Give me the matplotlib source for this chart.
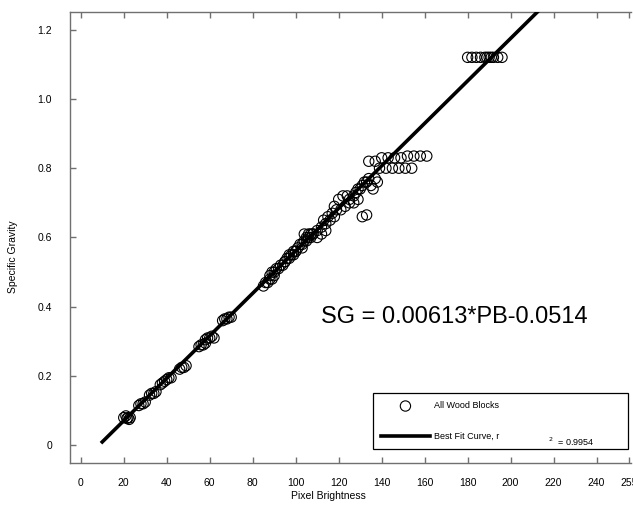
import numpy as np
import matplotlib.pyplot as plt

plt.rcParams['font.family'] = ['Liberation Sans', 'DejaVu Sans']

# wood block measurements (pixel brightness vs specific gravity)
pb = [20, 21, 21.5, 22, 22.5, 23,
      27, 28, 29, 30,
      32, 33, 34, 35,
      37, 38, 39, 40, 41, 42,
      46, 47, 48, 49,
      55, 56, 57, 58,
      58, 59, 60, 61, 62,
      66, 67, 68, 69, 70,
      85, 86, 87, 88, 89, 90,
      88, 89, 90, 91, 92, 93, 94, 95,
      95, 96, 97, 98, 99, 100, 97, 99,
      100, 101, 102, 103, 104, 105, 106, 107, 108, 103, 105, 107,
      104, 106, 108, 110, 112, 114, 116, 118, 110, 112, 114,
      113, 115, 117, 119, 121, 123, 125, 127, 129, 118, 120, 122, 124, 131, 133,
      125, 127, 128, 129, 130, 131, 132, 133, 134, 135, 136, 137, 138,
      134, 137, 140, 143, 146, 149, 152, 155, 158, 161, 139, 142, 145, 148, 151, 154,
      180, 182, 184, 186, 188, 190, 192, 194, 196, 189, 191]
sg = [0.08, 0.085, 0.078, 0.08, 0.075, 0.08,
      0.115, 0.12, 0.12, 0.125,
      0.145, 0.15, 0.15, 0.155,
      0.175, 0.18, 0.185, 0.19, 0.195, 0.195,
      0.22, 0.225, 0.225, 0.23,
      0.285, 0.29, 0.29, 0.295,
      0.305, 0.31, 0.31, 0.315, 0.31,
      0.36, 0.365, 0.365, 0.37, 0.37,
      0.46, 0.47, 0.47, 0.48, 0.48, 0.49,
      0.49, 0.50, 0.50, 0.51, 0.51, 0.52, 0.52, 0.53,
      0.53, 0.54, 0.55, 0.55, 0.56, 0.56, 0.54, 0.55,
      0.56, 0.57, 0.58, 0.58, 0.59, 0.60, 0.60, 0.61, 0.61, 0.57, 0.59, 0.60,
      0.61, 0.61, 0.61, 0.62, 0.63, 0.64, 0.65, 0.66, 0.60, 0.61, 0.62,
      0.65, 0.66, 0.67, 0.68, 0.68, 0.69, 0.70, 0.70, 0.71, 0.69, 0.71, 0.72, 0.72, 0.66, 0.665,
      0.71, 0.72, 0.73, 0.74, 0.74, 0.75, 0.76, 0.76, 0.77, 0.75, 0.74, 0.77, 0.76,
      0.82, 0.82, 0.83, 0.83, 0.83, 0.83, 0.835, 0.835, 0.835, 0.835, 0.80, 0.80, 0.80, 0.80, 0.80, 0.80,
      1.12, 1.12, 1.12, 1.12, 1.12, 1.12, 1.12, 1.12, 1.12, 1.12, 1.12]

slope = 0.00613
intercept = -0.0514
fit_x = np.array([10, 230])
fit_y = slope * fit_x + intercept

xticks = [0, 20, 40, 60, 80, 100, 120, 140, 160, 180, 200, 220, 240, 255]
yticks = [0, 0.2, 0.4, 0.6, 0.8, 1.0, 1.2]
ytick_labels = ['0', '0.2', '0.4', '0.6', '0.8', '1.0', '1.2']

fig = plt.figure(figsize=(6.33, 5.08), dpi=100)
ax = fig.add_axes([0.1106, 0.0892, 0.8862, 0.8866])

ax.scatter(pb, sg, s=55, facecolors='none', edgecolors='black', linewidths=0.8,
           label='All Wood Blocks', zorder=3)
ax.plot(fit_x, fit_y, color='black', lw=2.6, label='Best Fit Curve, r', zorder=4)

ax.set_xlim(-5, 256)
ax.set_ylim(-0.05, 1.25)
ax.set_xticks(xticks)
ax.set_yticks(yticks)
ax.set_yticklabels(ytick_labels)

gray = '#707070'
for side in ['left', 'top', 'bottom']:
    ax.spines[side].set_color(gray)
    ax.spines[side].set_linewidth(1.0)
ax.spines['right'].set_visible(False)
ax.tick_params(axis='x', direction='in', top=True, length=4, width=1, color=gray,
               labelsize=7.5, pad=11)
ax.tick_params(axis='y', direction='in', length=4, width=1, color=gray,
               labelsize=7.5, pad=13)

ax.set_xlabel('Pixel Brightness', fontsize=7.5)
ax.xaxis.set_label_coords(0.46, -0.062)
ax.set_ylabel('Specific Gravity', fontsize=7.5)
ax.yaxis.set_label_coords(-0.093, 0.457)

ax.text(112, 0.371, 'SG = 0.00613*PB-0.0514', fontsize=17, ha='left', va='center')

leg = ax.legend(loc='lower left', bbox_to_anchor=(0.540, 0.030, 0.455, 0.117),
                mode='expand', fontsize=6.5, frameon=True, fancybox=False,
                edgecolor='black', framealpha=1, borderpad=0.9, labelspacing=2.4,
                handlelength=5.4, handletextpad=0.5, scatterpoints=1,
                borderaxespad=0)
leg.get_frame().set_linewidth(0.9)
leg.set_zorder(5)
ax.text(0.852, 0.046, '$^{2}$  = 0.9954', transform=ax.transAxes, fontsize=6.5,
        ha='left', va='center', zorder=6)

fig.savefig('out.png', dpi=100)
